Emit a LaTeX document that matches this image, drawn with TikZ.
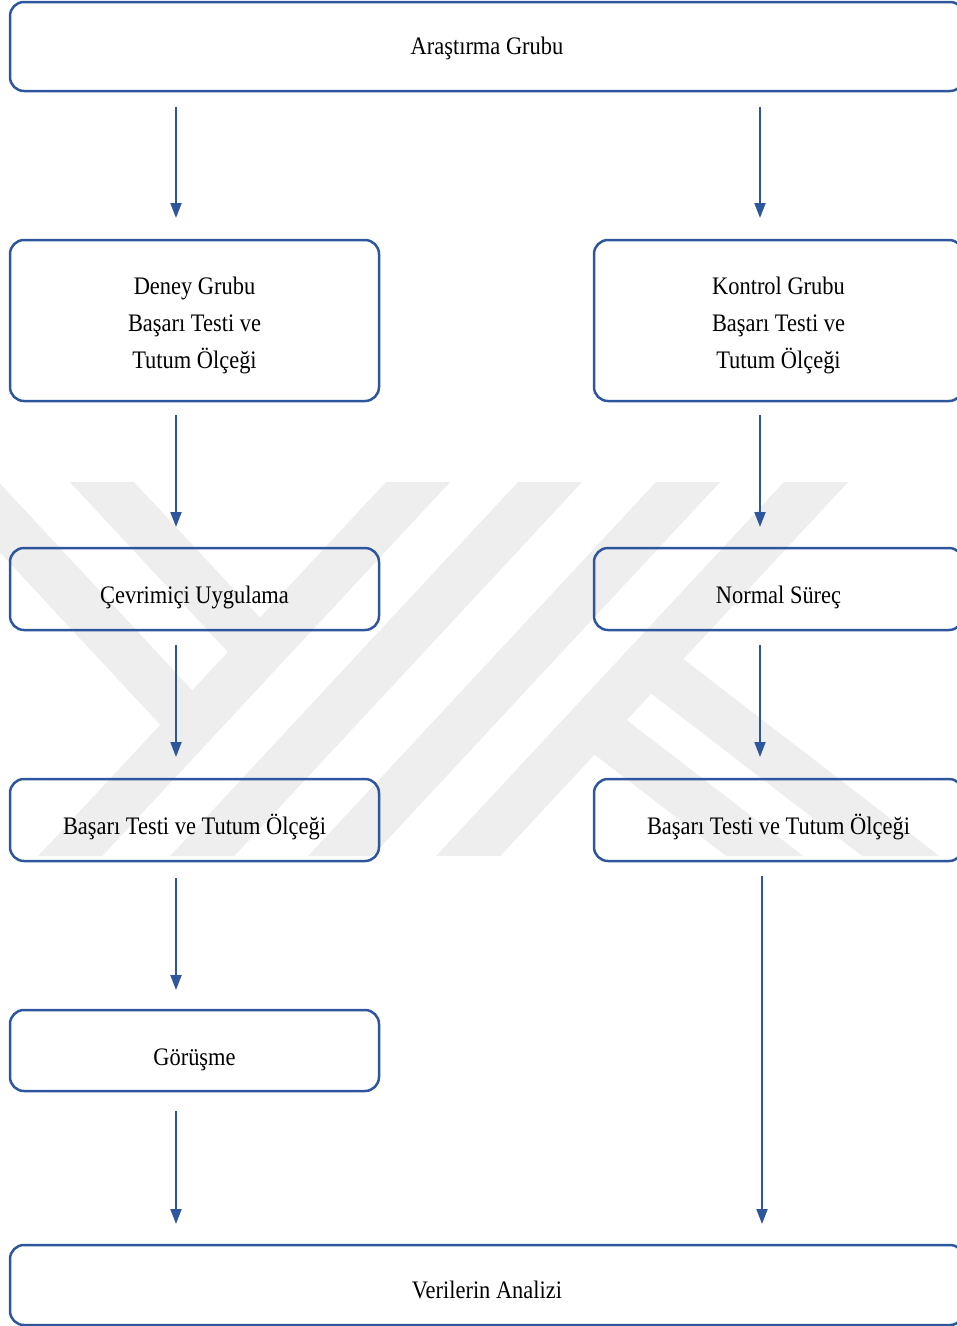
\documentclass[tikz,border=0pt]{standalone}
\usepackage{fontspec}
\setmainfont{Liberation Serif}[FakeStretch=0.89]
\usetikzlibrary{arrows.meta}
\definecolor{bx}{RGB}{45,86,156}
\definecolor{wmc}{RGB}{238,238,238}
\tikzset{
  box/.style={draw=bx, line width=2.5pt, rounded corners=14pt, outer sep=0pt, inner sep=0pt,
    align=center, font=\fontsize{25.2pt}{37pt}\selectfont, text=black, text depth=0pt, text height=28pt},
  arr/.style={draw=bx, line width=2pt, -{Triangle[length=15pt,width=11pt]}},
  wm/.style={draw=wmc, line width=47pt}
}
\begin{document}
\begin{tikzpicture}[x=1pt,y=-1pt]
\useasboundingbox (0,0) rectangle (957,1326);
\clip (0,0) rectangle (957,1326);
% watermark
\begin{scope}
\clip (0,482) rectangle (957,855);
\draw[wm] (447.8,450) -- (29.3,900);
\draw[wm] (579.8,450) -- (161.3,900);
\draw[wm] (717.8,450) -- (299.3,900);
\draw[wm] (845.8,450) -- (427.3,900);
\draw[wm] (72.2,450) -- (260,652);
\draw[wm] (-63.2,450) -- (192.2,724.7);
\draw[wm] (648.6,662) -- (958,900);
\draw[wm] (592,723) -- (822,900);
\end{scope}
% nodes
\node[box, minimum width=954pt, minimum height=89pt, text height=16pt] (top) at (487,46.5) {Araştırma Grubu};
\node[box, minimum width=369pt, minimum height=161pt, text height=95.7pt] (deney) at (194.5,320.5) {Deney Grubu\\Başarı Testi ve\\Tutum Ölçeği};
\node[box, minimum width=369pt, minimum height=161pt, text height=95.7pt] (kontrol) at (778.5,320.5) {Kontrol Grubu\\Başarı Testi ve\\Tutum Ölçeği};
\node[box, minimum width=369pt, minimum height=82pt] (cevrim) at (194.5,589) {Çevrimiçi Uygulama};
\node[box, minimum width=369pt, minimum height=82pt] (normal) at (778.5,589) {Normal Süreç};
\node[box, minimum width=369pt, minimum height=82pt] (basL) at (194.5,820) {Başarı Testi ve Tutum Ölçeği};
\node[box, minimum width=369pt, minimum height=82pt] (basR) at (778.5,820) {Başarı Testi ve Tutum Ölçeği};
\node[box, minimum width=369pt, minimum height=81pt, text height=30pt] (gorusme) at (194.5,1050.5) {Görüşme};
\node[box, minimum width=954pt, minimum height=80pt, text height=27pt] (veri) at (487,1285) {Verilerin Analizi};
% columns
\coordinate (cL) at (176,0);
\coordinate (cR) at (760,0);
\coordinate (cR2) at (762,0);
% arrows
\draw[arr, shorten <=16pt, shorten >=22pt] (top.south -| cL) -- (deney.north -| cL);
\draw[arr, shorten <=16pt, shorten >=22pt] (top.south -| cR) -- (kontrol.north -| cR);
\draw[arr, shorten <=14pt, shorten >=21pt] (deney.south -| cL) -- (cevrim.north -| cL);
\draw[arr, shorten <=14pt, shorten >=21pt] (kontrol.south -| cR) -- (normal.north -| cR);
\draw[arr, shorten <=15pt, shorten >=22pt] (cevrim.south -| cL) -- (basL.north -| cL);
\draw[arr, shorten <=15pt, shorten >=22pt] (normal.south -| cR) -- (basR.north -| cR);
\draw[arr, shorten <=17pt, shorten >=20pt] (basL.south -| cL) -- (gorusme.north -| cL);
\draw[arr, shorten <=20pt, shorten >=21pt] (gorusme.south -| cL) -- (veri.north -| cL);
\draw[arr, shorten <=15pt, shorten >=21pt] (basR.south -| cR2) -- (veri.north -| cR2);
\end{tikzpicture}
\end{document}
